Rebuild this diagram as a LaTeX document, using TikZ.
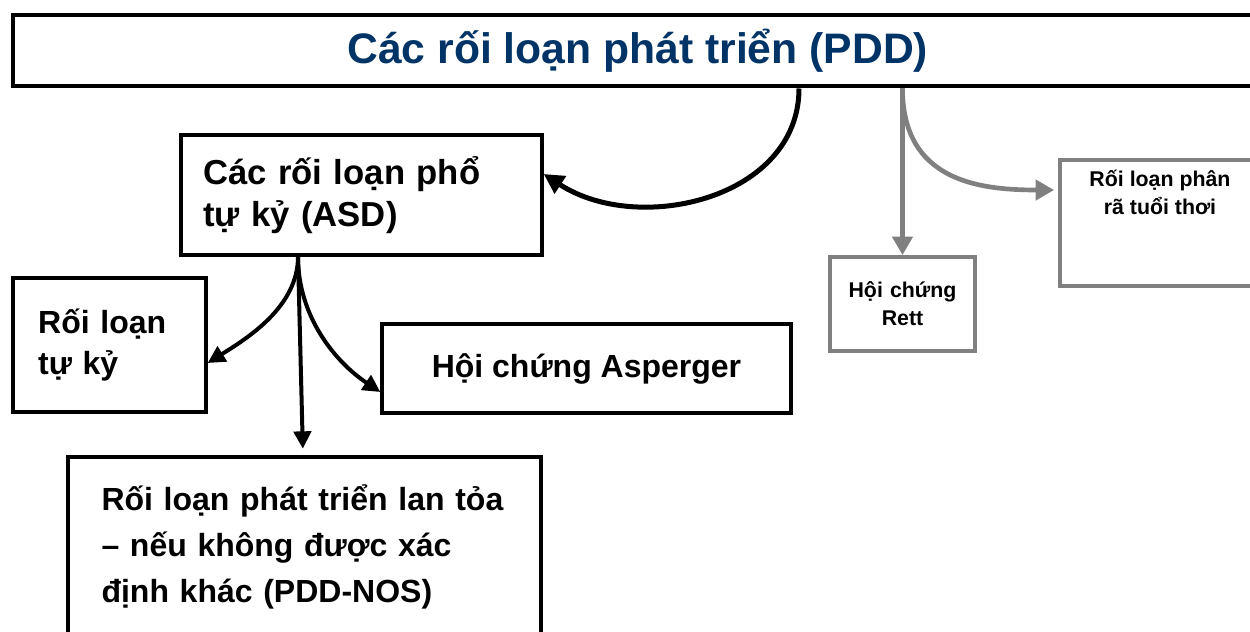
\documentclass[tikz,border=0pt]{standalone}
\usepackage{fontspec}
\setmainfont{Liberation Sans}
\usepackage{tikz}
\usetikzlibrary{arrows.meta}
\definecolor{titleblue}{RGB}{0,51,102}
\definecolor{boxgray}{RGB}{128,128,128}

\begin{document}
\begin{tikzpicture}[x=0.75pt,y=-0.75pt,
  blackbox/.style={draw=black,line width=2.5pt,inner sep=0pt},
  graybox/.style={draw=boxgray,line width=2.75pt,inner sep=0pt,font=\fontsize{16}{21}\selectfont\bfseries},
  bigtext/.style={font=\fontsize{24}{30.75}\selectfont\bfseries},
  blackarrow/.style={line width=3pt,-{Triangle[length=13pt,width=13pt]}},
  grayarrow/.style={draw=boxgray,line width=3.5pt,-{Triangle[length=14pt,width=15pt]}}]
  \useasboundingbox (0,0) rectangle (1250,632);
  \clip (0,0) rectangle (1250,632);
  %top
  \node[blackbox,line width=3pt,minimum width=936.4pt,minimum height=53.6pt,text=titleblue,font=\fontsize{32}{38}\selectfont\bfseries] (pdd) at (637.75,50.75) {Các rối loạn phát triển (PDD)};
  %spectrum
  \node[blackbox,minimum width=270.75pt,minimum height=90pt,inner xsep=16.5pt,text width=237.75pt,align=left,font=\fontsize{26}{31}\selectfont\bfseries] (asd) at (361.5,195) {Các rối loạn phổ\\tự kỷ (ASD)};
  \node[blackbox,bigtext,minimum width=144.75pt,minimum height=100.5pt,inner xsep=18.75pt,text width=107pt,align=left] (autism) at (109.5,345) {Rối loạn\\tự kỷ};
  \node[blackbox,bigtext,minimum width=306.75pt,minimum height=66.75pt] (asperger) at (586.5,368.5) {Hội chứng Asperger};
  \node[blackbox,font=\fontsize{24}{34.5}\selectfont\bfseries,minimum width=354.75pt,minimum height=134.25pt,inner xsep=25pt,text width=304.5pt,align=left] (pddnos) at (304.5,546.5) {Rối loạn phát triển lan tỏa\\– nếu không được xác\\định khác (PDD-NOS)};
  %others
  \node[graybox,minimum width=108.75pt,minimum height=70.5pt,text width=100pt,align=center] (rett) at (902.5,304) {Hội chứng\\Rett};
  \node[graybox,anchor=north,minimum width=150pt,inner ysep=8pt] (cdd) at (1160,158) {\parbox[c][78.5pt][t]{140pt}{\centering Rối loạn phân\\rã tuổi thơi}};

  \coordinate (pdd-l) at (pdd.south -| 799,0);
  \coordinate (pdd-r) at (pdd.south -| 902.5,0);
  \coordinate (asd-out) at (asd.south -| 298,0);
  \draw[blackarrow,line width=3.75pt,-{Triangle[length=15pt,width=15pt]}] (pdd-l) .. controls +(0,110) and +(95,62) .. (asd.east |- 0,174);
  \draw[grayarrow] (pdd-r) -- (rett.north);
  \draw[grayarrow,shorten >=3pt] (pdd-r) .. controls +(0,92) and +(-80,0) .. (cdd.west |- 0,190);
  \draw[blackarrow] (asd-out) .. controls +(0,50) and +(40,-25) .. (autism.east |- 0,363);
  \draw[blackarrow,shorten >=5pt] (asd-out) -- (pddnos.north -| 303,0);
  \draw[blackarrow] (asd-out) .. controls +(0,60) and +(-45,-30) .. (asperger.west |- 0,392);
\end{tikzpicture}
\end{document}
